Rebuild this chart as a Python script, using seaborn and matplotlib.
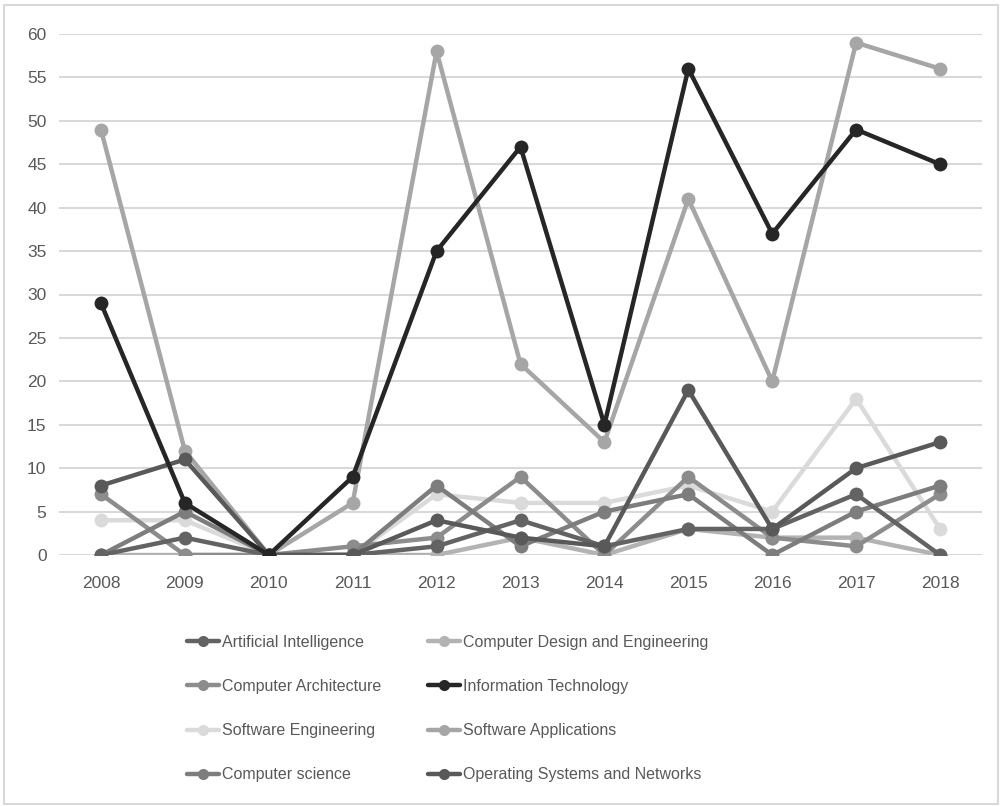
import matplotlib
matplotlib.use("Agg")
import matplotlib.pyplot as plt
from matplotlib.lines import Line2D
from matplotlib.patches import Rectangle
import seaborn as sns
import pandas as pd

years = [2008, 2009, 2010, 2011, 2012, 2013, 2014, 2015, 2016, 2017, 2018]

artificial_intelligence = [0, 2, 0, 0, 1, 4, 1, 3, 3, 7, 0]
computer_design_eng = [0, 0, 0, 0, 0, 2, 0, 3, 2, 2, 0]
computer_architecture = [7, 0, 0, 1, 2, 9, 0, 9, 2, 1, 7]
information_technology = [29, 6, 0, 9, 35, 47, 15, 56, 37, 49, 45]
software_engineering = [4, 4, 0, 0, 7, 6, 6, 8, 5, 18, 3]
software_applications = [49, 12, 0, 6, 58, 22, 13, 41, 20, 59, 56]
computer_science = [0, 5, 0, 0, 8, 1, 5, 7, 0, 5, 8]
operating_systems = [8, 11, 0, 0, 4, 2, 1, 19, 3, 10, 13]

series_names = [
    "Artificial Intelligence",
    "Computer Design and Engineering",
    "Computer Architecture",
    "Information Technology",
    "Software Engineering",
    "Software Applications",
    "Computer science",
    "Operating Systems and Networks",
]
series_values = [
    artificial_intelligence,
    computer_design_eng,
    computer_architecture,
    information_technology,
    software_engineering,
    software_applications,
    computer_science,
    operating_systems,
]
series_colors = ["#636363", "#b3b3b3", "#8c8c8c", "#262626",
                 "#dadada", "#a6a6a6", "#7d7d7d", "#595959"]

y_ticks = [0, 5, 10, 15, 20, 25, 30, 35, 40, 45, 50, 55, 60]

rows = []
for name, vals in zip(series_names, series_values):
    for yr, v in zip(years, vals):
        rows.append({"Year": yr, "Count": v, "Series": name})
df = pd.DataFrame(rows)

sns.set_theme(style="white")
plt.rcParams["font.family"] = ["Liberation Sans", "DejaVu Sans"]

fig = plt.figure(figsize=(10.02, 8.06), dpi=100)
ax = fig.add_axes([59 / 1002, 1 - 555 / 806, (982 - 59) / 1002, (555 - 34) / 806])

# draw order: light/background series first, dark ones on top
draw_order = [1, 4, 5, 2, 6, 0, 7, 3]
palette = dict(zip(series_names, series_colors))
for i in draw_order:
    sub = df[df["Series"] == series_names[i]]
    sns.lineplot(data=sub, x="Year", y="Count", color=palette[series_names[i]],
                 linewidth=3.2, marker="o", markersize=10, markeredgewidth=0,
                 ax=ax, legend=False, sort=False)

ax.set_xlim(2007.5, 2018.5)
ax.set_ylim(0, 60)
ax.set_xticks(years)
ax.set_xticklabels([str(y) for y in years])
ax.set_yticks(y_ticks)
ax.set_yticklabels([str(t) for t in y_ticks])
ax.set_xlabel("")
ax.set_ylabel("")
for s in ax.spines.values():
    s.set_visible(False)
ax.yaxis.grid(True, color="#d9d9d9", linewidth=1.5)
ax.xaxis.grid(False)
ax.set_axisbelow(True)
ax.tick_params(axis="both", length=0, labelsize=12.5, colors="#595959")
ax.tick_params(axis="y", pad=9)
ax.tick_params(axis="x", pad=15)

def handle(color):
    return Line2D([0], [0], color=color, linewidth=3.2, marker="o",
                  markersize=8, markeredgewidth=0)

col1 = [0, 2, 4, 6]
col2 = [1, 3, 5, 7]
legend_kw = dict(frameon=False, fontsize=11.5, labelcolor="#595959",
                 handlelength=2.0, handletextpad=0.2, labelspacing=1.82,
                 loc="upper left", borderaxespad=0, borderpad=0)
leg1 = fig.legend([handle(series_colors[i]) for i in col1],
                  [series_names[i] for i in col1],
                  bbox_to_anchor=(187 / 1002, 1 - 635 / 806), **legend_kw)
leg2 = fig.legend([handle(series_colors[i]) for i in col2],
                  [series_names[i] for i in col2],
                  bbox_to_anchor=(428 / 1002, 1 - 635 / 806), **legend_kw)

fig.patches.append(Rectangle((0.004, 0.002), 0.992, 0.992, transform=fig.transFigure,
                             fill=False, edgecolor="#d9d9d9", linewidth=1.5))

fig.savefig("out.png", dpi=100, facecolor="white")
